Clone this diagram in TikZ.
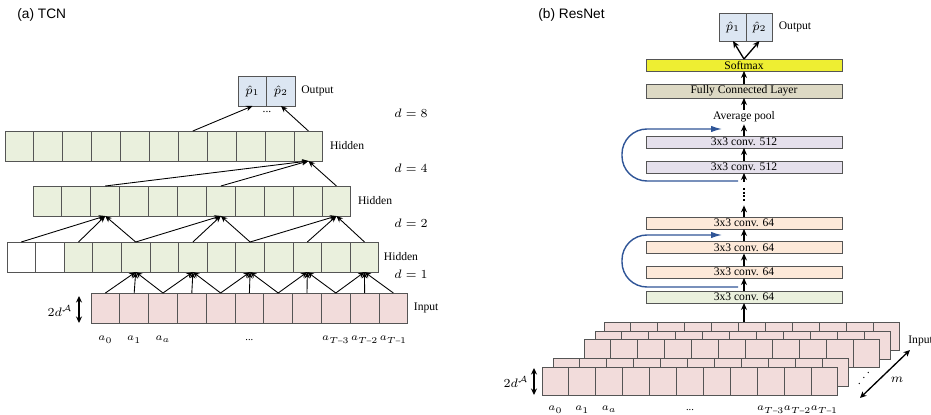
\documentclass[tikz,border=0pt]{standalone}
\usepackage{amsmath}
\usepackage{fontspec}
\setmainfont{Liberation Serif}
\newfontfamily\titlefont{Liberation Sans}
\usetikzlibrary{arrows.meta,positioning}

\definecolor{hidgreen}{RGB}{234,240,221}
\definecolor{inpink}{RGB}{242,220,219}
\definecolor{outblue}{RGB}{220,230,242}
\definecolor{smyellow}{RGB}{238,238,50}
\definecolor{fctan}{RGB}{221,217,196}
\definecolor{convlav}{RGB}{229,224,236}
\definecolor{convpeach}{RGB}{253,233,217}
\definecolor{skipblue}{RGB}{47,85,151}
\definecolor{edgegray}{RGB}{85,85,85}

\begin{document}
\begin{tikzpicture}[x=0.02cm,y=-0.02cm,
  every node/.style={font=\fontsize{6.6}{7.5}\selectfont},
  cell/.style={draw=edgegray,line width=0.5pt,fill=hidgreen,inner sep=0pt,outer sep=0pt,
    minimum width=#1*0.02cm,minimum height=0.6cm},
  pad/.style={cell=#1,fill=white},
  incell/.style={cell=#1,fill=inpink},
  obox/.style={cell=#1,fill=outblue},
  bar/.style={draw=edgegray,line width=0.5pt,inner sep=0pt,outer sep=0pt,
    minimum width=3.92cm,minimum height=#1*0.02cm},
  lbl/.style={inner sep=1pt},
  sym/.style={anchor=base,inner sep=0.5pt,font=\fontsize{6}{7}\selectfont},
  title/.style={font=\titlefont\fontsize{7.8}{9}\selectfont,inner sep=0pt,anchor=west},
  tarr/.style={-{Stealth[length=1.3mm,width=1.1mm]},line width=0.5pt},
  rarr/.style={-{Stealth[length=1.4mm,width=1.2mm]},line width=0.75pt},
  dim/.style={{Stealth[length=1.3mm,width=1.2mm]}-{Stealth[length=1.3mm,width=1.2mm]},line width=0.75pt},
  skip/.style={-{Latex[length=2.2mm,width=1.3mm]},draw=skipblue,line width=0.8pt,rounded corners=0.5cm}]
\useasboundingbox (0,0) rectangle (931,415);

% ---- (a) TCN ----
\node[title] (ttcn) at (17,15) {(a) TCN};

\node[obox=28.5] (p1) at (252.5,91) {$\hat{p}_1$};
\node[obox=28.5,right=0pt of p1] (p2) {$\hat{p}_2$};
\node[lbl,right=0.08cm of p2] (outa) {Output};
\node[lbl] (dotsa) at (267,112) {...};

\foreach \i in {1,...,11}
  \node[cell=28.9] (ha\i) at ({5+(\i-0.5)*28.9},146) {};
\foreach \i in {1,...,11}
  \node[cell=28.9] (hb\i) at ({33+(\i-0.5)*28.9},201) {};
\foreach \i in {1,2}
  \node[pad=28.6] (hc\i) at ({7+(\i-0.5)*28.6},257) {};
\foreach \i in {3,...,13}
  \node[cell=28.6] (hc\i) at ({7+(\i-0.5)*28.6},257) {};
\foreach \i in {1,...,11}
  \node[incell=28.8] (in\i) at ({91+(\i-0.5)*28.8},308) {};

\node[lbl,right=0.1cm of ha11] (hla) {Hidden};
\node[lbl,right=0.1cm of hb11] (hlb) {Hidden};
\node[lbl,right=0.06cm of hc13] (hlc) {Hidden};
\node[lbl,right=0.08cm of in11] (inla) {Input};

\node (d8) at (411,113) {$d=8$};
\node (d4) at (411,168) {$d=4$};
\node (d2) at (411,223) {$d=2$};
\node (d1) at (411,274) {$d=1$};

% dilated connections
\draw[tarr] (ha7.north) -- (p1.south);
\draw[tarr] (ha11.north) -- (p2.south);
\foreach \s in {3,7,11}
  \draw[tarr] (hb\s.north) -- (ha11.south);
\foreach \t/\s in {3/1,3/3,3/5,7/5,7/7,7/9,11/9,11/11,11/13}
  \draw[tarr] (hc\s.north) -- (hb\t.south);
\foreach \t/\s in {5/1,5/2,5/3,7/3,7/4,7/5,9/5,9/6,9/7,11/7,11/8,11/9,13/9,13/10,13/11}
  \draw[tarr] (in\s.north) -- (hc\t.south);

\coordinate (hta) at (79,296);
\coordinate (htb) at (79,323);
\draw[dim] (hta) -- (htb);
\node (hga) at (60,311) {$2d^{\mathcal{A}}$};

\foreach \i/\t in {1/a_0,2/a_1,3/a_a,9/a_{T\text{–}3},10/a_{T\text{–}2},11/a_{T\text{–}1}}
  \node[sym] (la\i) at (in\i |- 0,341) {$\t$};
\node[sym] (la6) at (in6 |- 0,341) {...};

% ---- (b) ResNet ----
\node[title] (tres) at (538,15) {(b) ResNet};

\node[obox=26.5,minimum height=0.56cm] (q1) at (733,27) {$\hat{p}_1$};
\node[obox=26.5,minimum height=0.56cm,right=0pt of q1] (q2) {$\hat{p}_2$};
\node[lbl,right=0.08cm of q2] (outb) {Output};

\node[bar=12,fill=smyellow] (sm) at (744,65) {Softmax};
\node[bar=14,fill=fctan] (fc) at (744,91) {Fully Connected Layer};
\node[lbl] (avg) at (744,117) {Average pool};
\node[bar=12,fill=convlav] (c5a) at (744,142) {3x3 conv. 512};
\node[bar=12,fill=convlav] (c5b) at (744,167) {3x3 conv. 512};
\node[inner sep=0pt,minimum width=0.1cm,minimum height=0.46cm] (vd) at (744,193.5) {};
\draw[densely dotted,line width=1.1pt] (744,188) -- (744,201);
\node[bar=12,fill=convpeach] (c6a) at (744,223) {3x3 conv. 64};
\node[bar=12,fill=convpeach] (c6b) at (744,247.5) {3x3 conv. 64};
\node[bar=12,fill=convpeach] (c6c) at (744,272) {3x3 conv. 64};
\node[bar=12,fill=hidgreen] (cg) at (744,297) {3x3 conv. 64};

\draw[rarr] (sm.north) -- (q1.south);
\draw[rarr] (sm.north) -- (q2.south);
\draw[rarr] (fc.north) -- (sm.south);
\draw[rarr] (avg.north) -- (fc.south);
\draw[rarr] (c5a.north) -- (avg.south);
\draw[rarr] (c5b.north) -- (c5a.south);
\draw[rarr] (vd.north) -- (c5b.south);
\draw[rarr] (c6a.north) -- (vd.south);
\draw[rarr] (c6b.north) -- (c6a.south);
\draw[rarr] (c6c.north) -- (c6b.south);
\draw[rarr] (cg.north) -- (c6c.south);

% shortcuts
\coordinate (ska) at (738,181);
\coordinate (skb) at (722,129);
\draw[skip] (ska) -- ++(-116,0) |- (skb);
\coordinate (skc) at (738,287);
\coordinate (skd) at (722,235);
\draw[skip] (skc) -- ++(-116,0) |- (skd);

% stacked input maps, back to front
\foreach \x/\y/\n in {604/336/sa,595/345/sb,584/353.5/sc,553/372/sd,542/381.5/se}
  \foreach \i in {1,...,11}
    \node[incell=26.9,minimum height=0.56cm] (\n\i) at ({\x+(\i-0.5)*26.9},\y) {};

\draw[rarr] (sa6.north -| cg.south) -- (cg.south);

\coordinate (rta) at (534,368);
\coordinate (rtb) at (534,395);
\draw[dim] (rta) -- (rtb);
\node (rga) at (516,382) {$2d^{\mathcal{A}}$};

\node (sdots) at (864,373) {\reflectbox{$\ddots$}};
\coordinate (ma) at (860,398);
\coordinate (mb) at (910,350);
\draw[dim] (ma) -- (mb);
\node (mlab) at (897,380) {$m$};
\node[inner sep=0pt,anchor=west] (inlb) at (908,341) {Input};

\foreach \i/\t in {1/a_0,2/a_1,3/a_a,9/a_{T\text{–}3},10/a_{T\text{–}2},11/a_{T\text{–}1}}
  \node[sym] (lb\i) at (se\i |- 0,411) {$\t$};
\node[sym] (lb6) at (se6 |- 0,411) {...};
\end{tikzpicture}
\end{document}
